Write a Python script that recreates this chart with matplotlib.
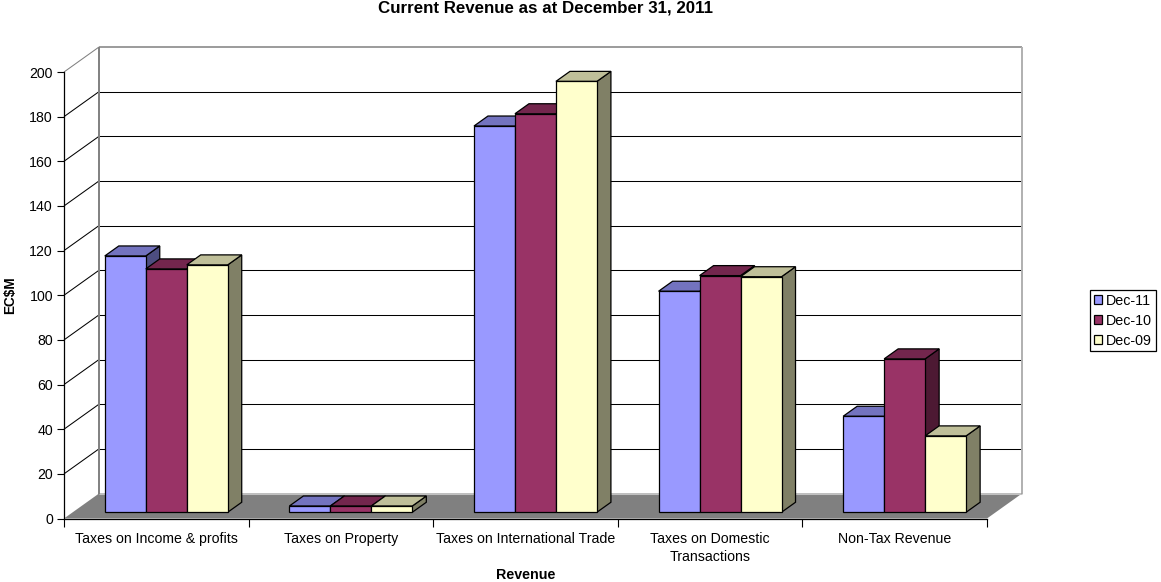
import matplotlib
matplotlib.use('Agg')
import matplotlib.pyplot as plt
from matplotlib.patches import Polygon, Patch

plt.rcParams['font.family'] = ['Liberation Sans', 'DejaVu Sans']

# ====================== data ======================
categories = ['Taxes on Income & profits', 'Taxes on Property',
              'Taxes on International Trade',
              'Taxes on Domestic\nTransactions', 'Non-Tax Revenue']
series_names = ['Dec-11', 'Dec-10', 'Dec-09']
dec_11 = [114.8, 2.8, 173, 99, 43]
dec_10 = [109, 2.8, 178.5, 106, 68.7]
dec_09 = [110.8, 2.8, 193, 105.5, 34.2]
y_ticks = list(range(0, 201, 20))

front_colors = ['#9999FF', '#993366', '#FFFFCC']
top_colors = ['#7373BF', '#73264D', '#BFBF99']
side_colors = ['#4D4D80', '#4D1933', '#808066']

# ====================== layout (pixels of the 1161x582 picture) ======================
W, H = 1161, 582
LEFT, RIGHT, TOP, BOTTOM = 64, 987, 72, 518.5
DEPTH_X = 35 / ((RIGHT - LEFT) / 5)            # wall depth in category units
DEPTH_Y = 25 / ((BOTTOM - TOP) / 200)          # wall depth in value units
BAR_W = 0.222
BAR_OFFSET = 0.1735
D_FRONT, D_BACK = 0.25, 0.65


def proj(x, y, d):
    """fake 3D: shift a point d of the way into the box"""
    return (x + d * DEPTH_X, y + d * DEPTH_Y)


fig = plt.figure(figsize=(W / 100, H / 100), dpi=100)
ax = fig.add_axes([LEFT / W, 1 - BOTTOM / H, (RIGHT - LEFT) / W, (BOTTOM - TOP) / H])
ax.patch.set_visible(False)
ax.set_xlim(0, 5)
ax.set_ylim(0, 200)


def poly(points, face, edge='black', lw=0.9, z=3):
    ax.add_patch(Polygon(points, closed=True, facecolor=face, edgecolor=edge,
                         linewidth=lw, joinstyle='miter', clip_on=False, zorder=z))


def line(p1, p2, color='black', lw=0.75, z=1):
    ax.plot([p1[0], p2[0]], [p1[1], p2[1]], color=color, lw=lw, zorder=z,
            clip_on=False, solid_capstyle='butt')


# ====================== walls and floor ======================
for v in y_ticks[1:-1]:
    line((0, v), proj(0, v, 1))
    line(proj(0, v, 1), proj(5, v, 1))
line((0, 200), proj(0, 200, 1), color='#808080')
line(proj(0, 200, 1), proj(5, 200, 1), color='#808080', lw=1.1)
line(proj(0, 0, 1), proj(0, 200, 1), color='#808080', lw=1.4)
line(proj(5, 0, 1), proj(5, 200, 1), color='#B0B0B0', lw=1.4)
poly([(0, 0), (5, 0), proj(5, 0, 1), proj(0, 0, 1)], '#808080', edge='none', z=2)
line(proj(0, 0, 1), proj(5, 0, 1), color='#C0C0C0', z=2)

# ====================== bars ======================
all_series = [dec_11, dec_10, dec_09]
for i in range(len(categories)):
    for s, values in enumerate(all_series):
        x0 = i + BAR_OFFSET + s * BAR_W
        x1 = x0 + BAR_W
        v = values[i]
        # zero sits on the bar base, in the bar's front plane
        base = D_FRONT * DEPTH_Y
        fx0, fy0 = x0 + D_FRONT * DEPTH_X, base
        fx1, fy1 = x1 + D_FRONT * DEPTH_X, v + base
        shift_x = (D_BACK - D_FRONT) * DEPTH_X
        shift_y = (D_BACK - D_FRONT) * DEPTH_Y
        poly([(fx1, fy0), (fx1 + shift_x, fy0 + shift_y),
              (fx1 + shift_x, fy1 + shift_y), (fx1, fy1)], side_colors[s])
        poly([(fx0, fy1), (fx1, fy1), (fx1 + shift_x, fy1 + shift_y),
              (fx0 + shift_x, fy1 + shift_y)], top_colors[s])
        poly([(fx0, fy0), (fx1, fy0), (fx1, fy1), (fx0, fy1)], front_colors[s])

# ====================== axes text ======================
for side in ['top', 'right']:
    ax.spines[side].set_visible(False)
for side in ['left', 'bottom']:
    ax.spines[side].set_linewidth(0.9)
    ax.spines[side].set_zorder(4)

ax.set_yticks(y_ticks)
ax.tick_params(axis='y', length=5, width=0.8, labelsize=10.15, pad=3)
ax.set_xticks(range(6))
ax.set_xticklabels([])
ax.tick_params(axis='x', which='major', length=5.8, width=0.8)
ax.set_xticks([i + 0.5 for i in range(5)], minor=True)
ax.set_xticklabels(categories, minor=True, fontsize=10.15, linespacing=1.3)
ax.tick_params(axis='x', which='minor', length=0, pad=10)

fig.text(545 / W, 1 - 8 / H, 'Current Revenue as at December 31, 2011',
         ha='center', va='center', fontsize=12.2, fontweight='bold')
fig.text(526 / W, 1 - 575 / H, 'Revenue', ha='center', va='center',
         fontsize=10.3, fontweight='bold')
fig.text(10 / W, 1 - 295 / H, 'EC$M', ha='center', va='center', rotation=90,
         fontsize=9.8, fontweight='bold')

handles = [Patch(facecolor=c, edgecolor='black', linewidth=0.9, label=n)
           for c, n in zip(front_colors, series_names)]
leg = fig.legend(handles=handles, loc='upper left',
                 bbox_to_anchor=(1090 / W, 1 - 290 / H), fontsize=10.3,
                 fancybox=False, framealpha=1, edgecolor='black',
                 borderpad=0.25, labelspacing=0.42, handlelength=0.58,
                 handleheight=0.6, handletextpad=0.3, borderaxespad=0)
leg.get_frame().set_linewidth(0.9)

fig.savefig('out.png', dpi=100)
